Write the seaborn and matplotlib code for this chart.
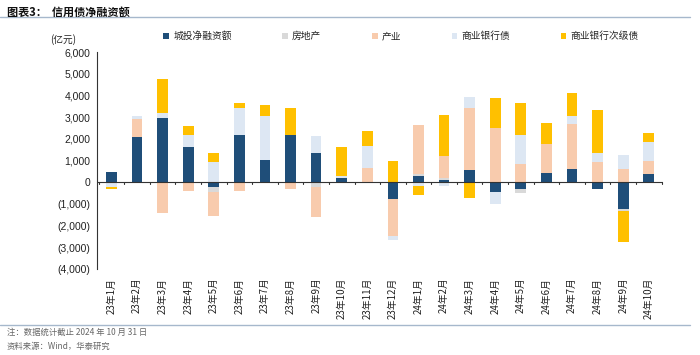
import numpy as np
import pandas as pd
import matplotlib
matplotlib.use("Agg")
import matplotlib.pyplot as plt
from matplotlib.patches import Patch
from matplotlib.lines import Line2D
import seaborn as sns

months = ["23年1月", "23年2月", "23年3月", "23年4月", "23年5月", "23年6月", "23年7月", "23年8月",
          "23年9月", "23年10月", "23年11月", "23年12月", "24年1月", "24年2月", "24年3月", "24年4月",
          "24年5月", "24年6月", "24年7月", "24年8月", "24年9月", "24年10月"]

chengtou = [480, 2100, 2950, 1620, -200, 2180, 1015, 2200, 1370, 200, -50, -770,
            290, 120, 570, -460, -310, 415, 600, -310, -1230, 400]
fangdichan = [-20, 0, 0, 0, -230, 0, 0, 0, -200, -50, 0, 0,
              90, 80, 0, 0, -180, 0, 0, 0, -80, 0]
chanye = [0, 820, -1430, -400, -1120, -400, 0, -290, -1415, 0, 660, -1690,
          2245, 1015, 2845, 2505, 845, 1355, 2105, 940, 600, 600]
shangyinzhai = [-210, 130, 260, 570, 920, 1260, 2045, 0, 750, 90, 1030, -200,
                -170, -170, 520, -540, 1320, 0, 340, 400, 660, 875]
ciji = [-70, 0, 1540, 400, 450, 200, 510, 1215, 0, 1320, 675, 970,
        -430, 1890, -710, 1370, 1480, 955, 1090, 1970, -1415, 400]

series_names = ["城投净融资额", "房地产", "产业", "商业银行债", "商业银行次级债"]
series_vals = [chengtou, fangdichan, chanye, shangyinzhai, ciji]
colors = ["#1F4E79", "#D9D9D9", "#F8CBAD", "#DDE7F3", "#FFC000"]

sns.set_theme(style="white")
plt.rcParams['font.family'] = ['Liberation Sans', 'Noto Sans CJK SC', 'DejaVu Sans']
cjk = ['Noto Sans CJK SC', 'DejaVu Sans']

fig = plt.figure(figsize=(7.0, 3.55), dpi=100)
ax = fig.add_axes([0.139, 0.2414, 0.808, 0.6121])

pos_bottom = np.zeros(len(months))
neg_bottom = np.zeros(len(months))
for name, vals, col in zip(series_names, series_vals, colors):
    v = np.array(vals, dtype=float)
    pos = np.where(v > 0, v, 0.0)
    neg = np.where(v < 0, v, 0.0)
    df = pd.DataFrame({"month": months, "pos": pos, "neg": neg})
    sns.barplot(data=df, x="month", y="pos", order=months, color=col, saturation=1,
                width=0.42, errorbar=None, ax=ax, bottom=pos_bottom.copy(), linewidth=0)
    sns.barplot(data=df, x="month", y="neg", order=months, color=col, saturation=1,
                width=0.42, errorbar=None, ax=ax, bottom=neg_bottom.copy(), linewidth=0)
    pos_bottom += pos
    neg_bottom += neg

ax.set_ylim(-4000, 6000)
ax.set_xlim(-0.55, len(months) - 0.45)
ax.set_yticks(np.arange(-4000, 6001, 1000))
def fmt(v):
    v = int(v)
    if v < 0:
        return "({:,})".format(-v)
    return "{:,}".format(v)
ax.set_yticklabels([fmt(t) for t in ax.get_yticks()], fontsize=7.5, color="#222222")
ax.set_xlabel("")
ax.set_ylabel("")
ax.set_xticks(range(len(months)))
ax.set_xticklabels(months, rotation=90, fontsize=7, family=cjk, color="#222222")
ax.tick_params(axis="x", length=0, pad=6)
ax.tick_params(axis="y", length=3, width=0.8, color="#333333", direction="out", pad=2)

for s in ["top", "right", "bottom"]:
    ax.spines[s].set_visible(False)
ax.spines["left"].set_color("#333333")
ax.spines["left"].set_linewidth(0.8)
ax.axhline(0, color="#333333", linewidth=0.8, zorder=3)
for i in range(len(months) + 1):
    ax.plot([i - 0.5, i - 0.5], [0, -70], color="#333333", linewidth=0.8, zorder=3, clip_on=False)

handles = [Patch(facecolor=c, edgecolor="none") for c in colors]
fig.legend(handles, series_names, loc="center left", bbox_to_anchor=(0.228, 0.898), ncol=5,
           frameon=False, prop={"family": cjk, "size": 7}, handlelength=0.6, handleheight=0.6,
           handletextpad=0.4, columnspacing=5.2, borderaxespad=0)

fig.text(0.072, 0.878, "(亿元)", fontsize=7, family=cjk, color="#222222", ha="left")
fig.text(0.01, 0.965, "图表3：  信用债净融资额", fontsize=8, family=cjk, weight="bold",
         color="#111111", ha="left", va="center")
fig.add_artist(Line2D([0.0, 0.985], [0.952, 0.952], transform=fig.transFigure,
                      color="#A6B8CC", linewidth=1.0))
fig.add_artist(Line2D([0.0, 0.985], [0.085, 0.085], transform=fig.transFigure,
                      color="#A6B8CC", linewidth=1.0))
fig.text(0.01, 0.063, "注：数据统计截止 2024 年 10 月 31 日", fontsize=6, family=cjk,
         color="#666666", ha="left", va="center")
fig.text(0.01, 0.025, "资料来源：Wind，华泰研究", fontsize=6, family=cjk,
         color="#666666", ha="left", va="center")

fig.savefig("out.png", dpi=100)
